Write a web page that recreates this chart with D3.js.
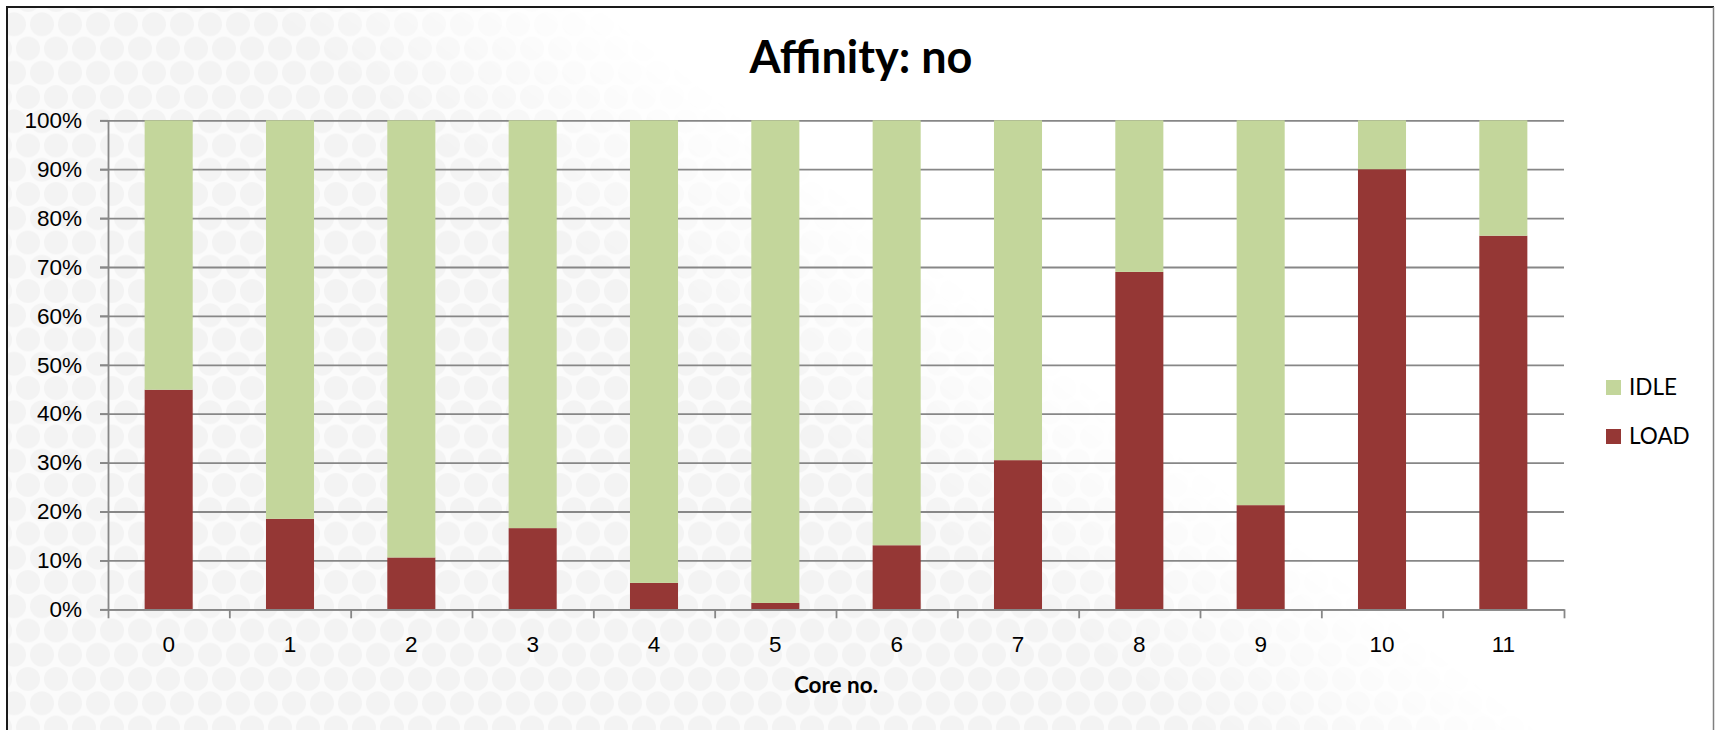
<!DOCTYPE html>
<html>
<head>
<meta charset="utf-8">
<script src="https://cdn.jsdelivr.net/npm/d3@7"></script>
<style>
  html, body { margin: 0; padding: 0; background: #ffffff; }
  svg { display: block; font-family: Lato, "Open Sans", sans-serif; }
</style>
</head>
<body>
<svg id="chart" width="1715" height="730"></svg>
<script>
// Per-core CPU utilisation split, in percent
const cores = ["0", "1", "2", "3", "4", "5", "6", "7", "8", "9", "10", "11"];
const loadPct = [44.9, 18.5, 10.6, 16.6, 5.4, 1.3, 13.1, 30.5, 69.0, 21.3, 90.0, 76.4];
const idlePct = [55.1, 81.5, 89.4, 83.4, 94.6, 98.7, 86.9, 69.5, 31.0, 78.7, 10.0, 23.6];
const seriesNames = ["LOAD", "IDLE"];
const seriesColors = ["#953735", "#C3D69B"];
const yTicks = [0, 0.1, 0.2, 0.3, 0.4, 0.5, 0.6, 0.7, 0.8, 0.9, 1.0];
const chartTitle = "Affinity: no";
const xTitle = "Core no.";

const svg = d3.select("#chart");
const W = 1715, H = 730;
const plot = { left: 108, right: 1564, top: 120.3, bottom: 609.3 };

// ---- background: soft dotted texture fading towards the upper right ----
const defs = svg.append("defs");
const cellW = 28, cellH = 48.5;
const pat = defs.append("pattern")
  .attr("id", "dots").attr("patternUnits", "userSpaceOnUse")
  .attr("width", cellW).attr("height", cellH);
pat.append("rect").attr("width", cellW).attr("height", cellH).attr("fill", "#fbfbfb");
[[0, 0], [cellW, 0], [0, cellH], [cellW, cellH], [cellW / 2, cellH / 2]].forEach(([cx, cy]) => {
  pat.append("circle").attr("cx", cx).attr("cy", cy).attr("r", 12).attr("fill", "#f3f3f3");
});
const grad = defs.append("linearGradient")
  .attr("id", "fade").attr("gradientUnits", "userSpaceOnUse")
  .attr("x1", 92.9).attr("y1", -120.8).attr("x2", 223.1).attr("y2", -290.0);
grad.append("stop").attr("offset", 0).attr("stop-color", "#fff");
grad.append("stop").attr("offset", 1).attr("stop-color", "#000");
defs.append("mask").attr("id", "fadeMask")
  .append("rect").attr("width", W).attr("height", H).attr("fill", "url(#fade)");

svg.append("rect").attr("width", W).attr("height", H).attr("fill", "#ffffff");
svg.append("rect").attr("x", 8).attr("y", 8).attr("width", W - 16).attr("height", H - 8)
  .attr("fill", "url(#dots)").attr("mask", "url(#fadeMask)");

// chart frame
svg.append("line").attr("x1", 7).attr("y1", 7).attr("x2", 1714).attr("y2", 7)
  .attr("stroke", "#1a1a1a").attr("stroke-width", 2);
svg.append("line").attr("x1", 7).attr("y1", 6).attr("x2", 7).attr("y2", H)
  .attr("stroke", "#1a1a1a").attr("stroke-width", 2);
svg.append("line").attr("x1", 1713.5).attr("y1", 7).attr("x2", 1713.5).attr("y2", H)
  .attr("stroke", "#7f7f7f").attr("stroke-width", 1.5);

// ---- scales ----
const x = d3.scaleBand().domain(cores)
  .range([plot.left, plot.right]).paddingInner(0.604).paddingOuter(0.302);
const xEdges = d3.scaleLinear().domain([0, cores.length]).range([plot.left, plot.right]);
const y = d3.scaleLinear().domain([0, 1]).range([plot.bottom, plot.top]);

// ---- gridlines ----
const gridG = svg.append("g")
  .attr("transform", `translate(${plot.right},0)`)
  .call(d3.axisLeft(y).tickValues(yTicks).tickSize(plot.right - 100).tickFormat(""));
gridG.select(".domain").remove();
gridG.selectAll(".tick line").attr("stroke", "#878787").attr("stroke-width", 1.8);

// ---- stacked bars ----
const rows = cores.map((c, i) => ({ core: c, LOAD: loadPct[i], IDLE: idlePct[i] }));
const stacked = d3.stack().keys(seriesNames).offset(d3.stackOffsetExpand)(rows);
svg.append("g").selectAll("g").data(stacked).join("g")
  .attr("fill", (d, i) => seriesColors[i])
  .selectAll("rect").data(d => d).join("rect")
  .attr("x", d => x(d.data.core))
  .attr("width", x.bandwidth())
  .attr("y", d => y(d[1]))
  .attr("height", d => y(d[0]) - y(d[1]));

// ---- y axis ----
const yAxis = svg.append("g")
  .attr("transform", `translate(${plot.left},0)`)
  .call(d3.axisLeft(y).tickValues(yTicks).tickFormat(d3.format(".0%"))
    .tickSize(8).tickSizeOuter(0).tickPadding(18));
yAxis.select(".domain").attr("stroke", "#878787").attr("stroke-width", 1.8);
yAxis.selectAll(".tick line").attr("stroke", "#878787").attr("stroke-width", 1.8);
yAxis.selectAll("text").attr("font-size", 22.5).attr("fill", "#000");

// ---- x axis: boundary ticks + centred labels ----
const xTickAxis = svg.append("g")
  .attr("transform", `translate(0,${plot.bottom})`)
  .call(d3.axisBottom(xEdges).tickValues(d3.range(cores.length + 1))
    .tickSize(9).tickSizeOuter(0).tickFormat(""));
xTickAxis.select(".domain").attr("stroke", "#878787").attr("stroke-width", 1.8);
xTickAxis.selectAll(".tick line").attr("stroke", "#878787").attr("stroke-width", 1.8);

const xLabelAxis = svg.append("g")
  .attr("transform", `translate(0,${plot.bottom})`)
  .call(d3.axisBottom(x).tickSize(0).tickPadding(27));
xLabelAxis.select(".domain").remove();
xLabelAxis.selectAll("text").attr("font-size", 22.5).attr("fill", "#000");

// ---- titles ----
svg.append("text")
  .attr("x", 861).attr("y", 73).attr("text-anchor", "middle")
  .attr("font-size", 45).attr("font-weight", "bold").attr("fill", "#000")
  .text(chartTitle);
svg.append("text")
  .attr("x", (plot.left + plot.right) / 2).attr("y", 693).attr("text-anchor", "middle")
  .attr("font-size", 22.5).attr("font-weight", "bold").attr("fill", "#000")
  .text(xTitle);

// ---- legend (IDLE listed first, as it sits on top of the stack) ----
const legendOrder = [1, 0];
const legend = svg.append("g").selectAll("g").data(legendOrder).join("g")
  .attr("transform", (d, i) => `translate(1606,${380 + i * 49})`);
legend.append("rect").attr("width", 15).attr("height", 15)
  .attr("fill", d => seriesColors[d]);
legend.append("text").attr("x", 23).attr("y", 15)
  .attr("font-size", 22.5).attr("fill", "#000")
  .text(d => seriesNames[d]);
</script>
</body>
</html>
